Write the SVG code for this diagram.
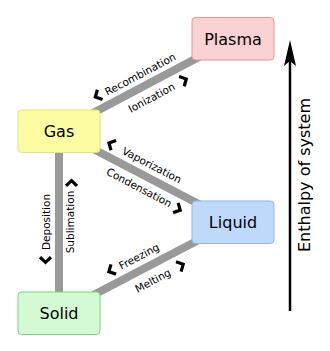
<svg xmlns="http://www.w3.org/2000/svg" width="330" height="351" viewBox="0 0 330 351">
<style>
.node{stroke-width:1}
.nl{font-family:"DejaVu Sans",sans-serif;font-size:16px;fill:#000;text-anchor:middle}
.el{font-family:"DejaVu Sans",sans-serif;font-size:10.5px;fill:#000;text-anchor:middle}
.conn{stroke:#999;stroke-width:8;fill:none}
.chev{fill:none;stroke:#000;stroke-width:3.2;stroke-linejoin:miter}
</style>
<defs>
<path id="lt" class="chev" d="M2.8,-5.5 L-2.4,0 L2.8,5.5"/>
<path id="gt" class="chev" d="M-2.8,-5.5 L2.4,0 L-2.8,5.5"/>
</defs>
<g id="connectors">
<line class="conn" x1="59" y1="131" x2="233" y2="39"/>
<line class="conn" x1="59" y1="131" x2="233" y2="222"/>
<line class="conn" x1="59" y1="313" x2="233" y2="222"/>
<line class="conn" x1="59" y1="131" x2="59" y2="313"/>
<g transform="translate(146,85) rotate(-27.87)">
<text class="el" x="0" y="-8.5">Recombination</text>
<text class="el" x="-1" y="17.5">Ionization</text>
<use href="#lt" x="-48" y="-13"/>
<use href="#gt" x="36" y="13.5"/>
</g>
<g transform="translate(146,176.5) rotate(27.6)">
<text class="el" x="0" y="-9">Vaporization</text>
<text class="el" x="-1" y="16.7">Condensation</text>
<use href="#lt" x="-46" y="-12.6"/>
<use href="#gt" x="43.5" y="14"/>
</g>
<g transform="translate(146,267.5) rotate(-27.6)">
<text class="el" x="-1" y="-9.4">Freezing</text>
<text class="el" x="0" y="18.5">Melting</text>
<use href="#lt" x="-32.4" y="-13.5"/>
<use href="#gt" x="32" y="14.4"/>
</g>
<g transform="translate(59,222) rotate(-90)">
<text class="el" x="0" y="-9">Deposition</text>
<text class="el" x="0" y="15">Sublimation</text>
<use href="#lt" x="-38" y="-13.5"/>
<use href="#gt" x="39" y="12.5"/>
</g>
</g>
<g id="plasma">
<rect class="node" x="192" y="17.5" width="82" height="42.5" rx="3.5" fill="#fad2d4" stroke="#e0959a"/>
<text class="nl" x="233" y="45">Plasma</text>
</g>
<g id="gas">
<rect class="node" x="18" y="110" width="82" height="42.5" rx="3.5" fill="#fcfca3" stroke="#e4e47a"/>
<text class="nl" x="59" y="137">Gas</text>
</g>
<g id="liquid">
<rect class="node" x="192" y="201" width="82" height="42.5" rx="3.5" fill="#bed9fa" stroke="#92b6e0"/>
<text class="nl" x="233" y="228">Liquid</text>
</g>
<g id="solid">
<rect class="node" x="18" y="292" width="82" height="42.5" rx="3.5" fill="#d4fad4" stroke="#7fd27f"/>
<text class="nl" x="59" y="319">Solid</text>
</g>
<g id="enthalpy">
<line x1="290" y1="311" x2="290" y2="58" stroke="#000" stroke-width="2.5"/>
<path d="M290,40 L296,66 L290,61 L284,66 Z" fill="#000"/>
<text class="nl" transform="translate(310,175) rotate(-90)" x="0" y="0">Enthalpy of system</text>
</g>
</svg>
